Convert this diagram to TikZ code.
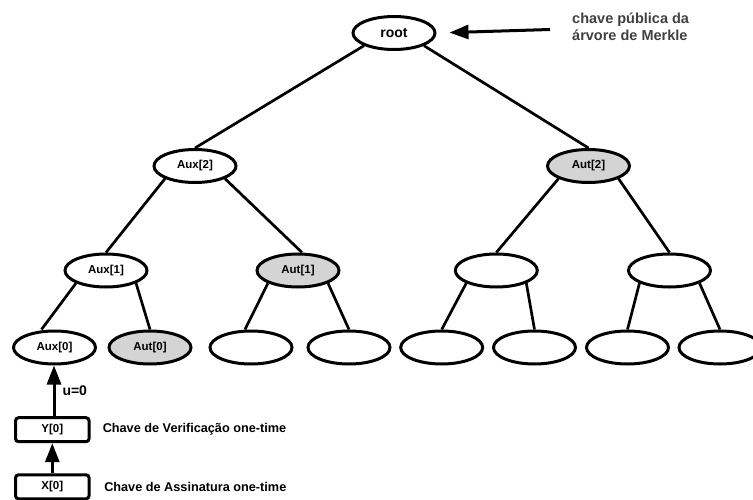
\documentclass[tikz,border=0pt]{standalone}
\usepackage{fontspec}
\setmainfont{Liberation Sans}
\usetikzlibrary{positioning,shapes.geometric,arrows.meta,calc}
\definecolor{autgray}{RGB}{212,212,212}
\definecolor{notegray}{RGB}{64,64,64}

\begin{document}
\begin{tikzpicture}[
    x=1pt, y=-1pt,
    hnode/.style={ellipse, draw=black, line width=3pt, fill=white,
      minimum width=82pt, minimum height=33pt, inner sep=0pt,
      font=\fontsize{11.5}{13}\selectfont\bfseries},
    authnode/.style={hnode, fill=autgray},
    keybox/.style={rectangle, draw=black, line width=3pt, rounded corners=3pt,
      minimum width=73.5pt, minimum height=24pt, inner sep=0pt,
      font=\fontsize{11.5}{13}\selectfont\bfseries},
    note/.style={inner sep=0pt, align=left, font=\fontsize{12.7}{15}\selectfont\bfseries},
    edge/.style={line width=2.7pt},
    arrow/.style={-{Triangle[length=19pt,width=14pt]}, line width=3pt}
  ]
    \useasboundingbox (0,0) rectangle (753,500);

    % tree of hashes
    \node[hnode, font=\fontsize{14}{16}\selectfont\bfseries] (root) at (394,33) {root};
    \node[hnode]    (aux2) at (195,166)   {Aux[2]};
    \node[authnode] (aut2) at (588.5,166) {Aut[2]};
    \node[hnode]    (aux1) at (106,270.5)   {Aux[1]};
    \node[authnode] (aut1) at (298,270.5)   {Aut[1]};
    \node[hnode]    (n2c)  at (496.3,270.5) {};
    \node[hnode]    (n2d)  at (669.5,270.5) {};
    \node[hnode]    (aux0)  at (54.5,347.5)  {Aux[0]};
    \node[authnode] (aut0)  at (150,347.5)   {Aut[0]};
    \node[hnode]    (leaf2) at (251,347.5)   {};
    \node[hnode]    (leaf3) at (349,347.5)   {};
    \node[hnode]    (leaf4) at (441.7,347.5) {};
    \node[hnode]    (leaf5) at (534.5,347.5) {};
    \node[hnode]    (leaf6) at (627.5,347.5) {};
    \node[hnode]    (leaf7) at (720,347.5)   {};

    \draw[edge] (root.south west) -- (aux2.north);
    \draw[edge] (root.south east) -- (aut2.north);
    \draw[edge] (aux2.south west) -- (aux1.north);
    \draw[edge] (aux2.south east) -- ([xshift=4pt]aut1.north);
    \draw[edge] (aut2.south west) -- (n2c.north);
    \draw[edge] (aut2.south east) -- (n2d.north);
    \draw[edge] (aux1.south west) -- ([xshift=-13pt]aux0.north);
    \draw[edge] (aux1.south east) -- (aut0.north);
    \draw[edge] (aut1.south west) -- ([xshift=-6pt]leaf2.north);
    \draw[edge] (aut1.south east) -- (leaf3.north);
    \draw[edge] (n2c.south west)  -- (leaf4.north);
    \draw[edge] (n2c.south east)  -- (leaf5.north);
    \draw[edge] (n2d.south west)  -- (leaf6.north);
    \draw[edge] (n2d.south east)  -- (leaf7.north);

    % public key
    \coordinate (pktail) at (550,29.5);
    \node[note, anchor=west, text=notegray, font=\fontsize{14.5}{17}\selectfont\bfseries]
      (pknote) at (572,26.5) {chave pública da\\árvore de Merkle};
    \draw[arrow, shorten >=13pt] (pktail) -- (root.east);

    % one-time keys
    \node[keybox] (y0) at (52.3,429.7) {Y[0]};
    \node[keybox] (x0) at (52.3,486.8) {X[0]};
    \node[note, right=12pt of y0] (ynote) {Chave de Verificação one-time};
    \node[note, right=13.5pt of x0] (xnote) {Chave de Assinatura one-time};

    \draw[arrow] ([xshift=1.7pt]y0.north) -- ([xshift=1.7pt]y0.north |- aux0.south)
      node[midway, right=7pt, inner sep=0pt, font=\fontsize{14}{16}\selectfont\bfseries] (ulabel) {u=0};
    \draw[arrow] (x0.north) -- (y0.south);
  \end{tikzpicture}
\end{document}
